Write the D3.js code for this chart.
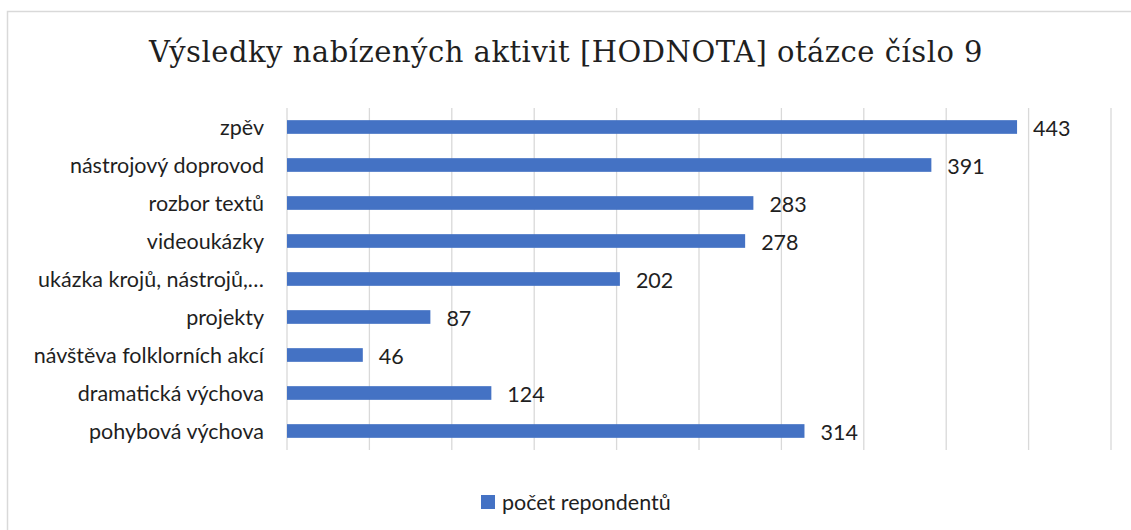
<!DOCTYPE html>
<html>
<head>
<meta charset="utf-8">
<script src="https://cdn.jsdelivr.net/npm/d3@7"></script>
<style>
  body { margin: 0; background: #fff; }
  svg text { font-family: Lato, sans-serif; fill: #1f1f1f; }
  .title { font-family: "DejaVu Serif", serif; letter-spacing: 0.5px; }
</style>
</head>
<body>
<div id="chart"></div>
<script>
const categories = ['zpěv', 'nástrojový doprovod', 'rozbor textů', 'videoukázky',
  'ukázka krojů, nástrojů,…', 'projekty', 'návštěva folklorních akcí',
  'dramatická výchova', 'pohybová výchova'];
const values = [443, 391, 283, 278, 202, 87, 46, 124, 314];
const seriesName = 'počet repondentů';
const titleText = 'Výsledky nabízených aktivit [HODNOTA] otázce číslo 9';
const xTicks = [0, 50, 100, 150, 200, 250, 300, 350, 400, 450, 500];

const width = 1131, height = 530;
const margin = { top: 108, right: 20, bottom: 80, left: 287 };
const plotRight = 1111;
const plotBottom = 450;
const barColor = '#4472C4';
const labelSize = '21.5px';

const svg = d3.select('#chart').append('svg')
  .attr('width', width)
  .attr('height', height);

// chart frame
svg.append('rect')
  .attr('x', 7.5).attr('y', 11.5)
  .attr('width', width + 10).attr('height', height + 10)
  .attr('fill', 'none')
  .attr('stroke', '#d9d9d9')
  .attr('stroke-width', 1.5);

const x = d3.scaleLinear()
  .domain([0, 500])
  .range([margin.left, plotRight]);

const y = d3.scaleBand()
  .domain(categories)
  .range([margin.top, plotBottom])
  .paddingInner(0.64)
  .paddingOuter(0.32);

// gridlines
svg.append('g')
  .attr('class', 'grid')
  .selectAll('line')
  .data(xTicks)
  .enter().append('line')
    .attr('x1', d => x(d))
    .attr('x2', d => x(d))
    .attr('y1', margin.top)
    .attr('y2', plotBottom)
    .attr('stroke', '#d9d9d9')
    .attr('stroke-width', 1.3);

// category labels
const yAxis = svg.append('g')
  .attr('transform', 'translate(' + (margin.left - 23) + ',0)')
  .call(d3.axisLeft(y).tickSize(0).tickPadding(0));
yAxis.select('.domain').remove();
yAxis.selectAll('text')
  .style('font-size', labelSize)
  .attr('fill', '#1f1f1f')
  .attr('dy', '0.35em');

// bars
svg.append('g')
  .selectAll('rect')
  .data(values)
  .enter().append('rect')
    .attr('x', x(0))
    .attr('y', (d, i) => y(categories[i]))
    .attr('width', d => x(d) - x(0))
    .attr('height', y.bandwidth())
    .attr('fill', barColor);

// value labels
svg.append('g')
  .selectAll('text')
  .data(values)
  .enter().append('text')
    .attr('x', d => x(d) + 16)
    .attr('y', (d, i) => y(categories[i]) + y.bandwidth() / 2 + 1)
    .attr('dy', '0.35em')
    .style('font-size', labelSize)
    .text(d => d);

// title
svg.append('text')
  .attr('class', 'title')
  .attr('x', 566)
  .attr('y', 62)
  .attr('text-anchor', 'middle')
  .style('font-size', '29px')
  .text(titleText);

// legend
const legend = svg.append('g')
  .attr('transform', 'translate(481,495)');
legend.append('rect')
  .attr('width', 14)
  .attr('height', 14)
  .attr('fill', barColor);
legend.append('text')
  .attr('x', 21)
  .attr('y', 7)
  .attr('dy', '0.35em')
  .style('font-size', labelSize)
  .text(seriesName);
</script>
</body>
</html>
